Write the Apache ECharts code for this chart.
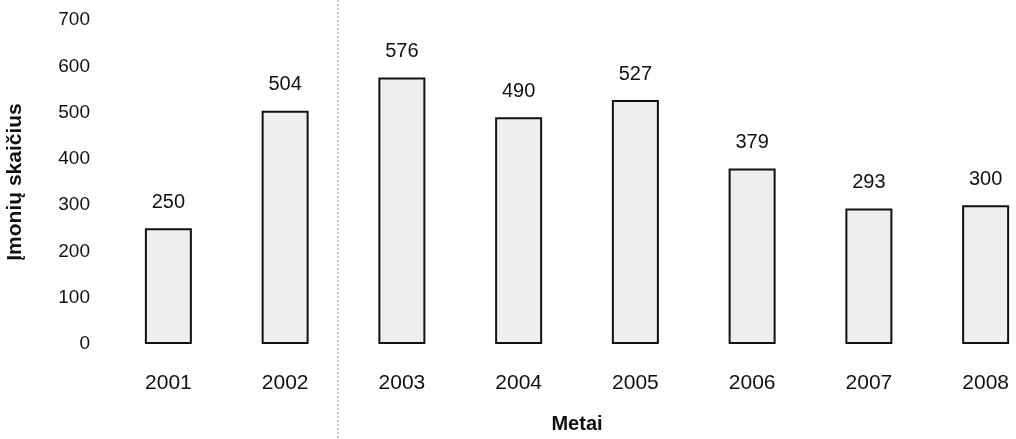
<!DOCTYPE html>
<html>
<head>
<meta charset="utf-8">
<script src="https://cdn.jsdelivr.net/npm/echarts@6/dist/echarts.min.js"></script>
<style>
html,body{margin:0;padding:0;background:#fff;}
#c{width:1016px;height:439px;}
</style>
</head>
<body>
<div id="c"></div>
<script>
const years = ['2001','2002','2003','2004','2005','2006','2007','2008'];
const companies = [250, 504, 576, 490, 527, 379, 293, 300];
const yTicks = [0, 100, 200, 300, 400, 500, 600, 700];
const yTitle = 'Įmonių skaičius';
const xTitle = 'Metai';

const chart = echarts.init(document.getElementById('c'));
const font = '"Liberation Sans", Arial, sans-serif';
chart.setOption({
  animation: false,
  backgroundColor: '#fff',
  grid: { left: 110, width: 934, top: 20, height: 324, containLabel: false, outerBoundsMode: 'none' },
  xAxis: {
    type: 'category',
    data: years,
    name: xTitle,
    nameLocation: 'middle',
    nameGap: 70,
    nameTextStyle: { fontFamily: font, fontSize: 20, fontWeight: 'bold', color: '#111' },
    axisLine: { show: false },
    axisTick: { show: false },
    axisLabel: { fontFamily: font, fontSize: 21, color: '#111', margin: 29 }
  },
  yAxis: {
    type: 'value',
    min: yTicks[0],
    max: yTicks[yTicks.length - 1],
    interval: 100,
    name: yTitle,
    nameLocation: 'middle',
    nameGap: 84,
    nameRotate: 90,
    nameTextStyle: { fontFamily: font, fontSize: 21, fontWeight: 'bold', color: '#111' },
    axisLine: { show: false },
    axisTick: { show: false },
    splitLine: { show: false },
    axisLabel: { fontFamily: font, fontSize: 19, color: '#111', margin: 20 }
  },
  graphic: [{
    type: 'line',
    shape: { x1: 338, y1: 0, x2: 338, y2: 439 },
    style: { stroke: '#999', lineWidth: 1, lineDash: [2, 2] },
    silent: true
  }],
  series: [{
    type: 'bar',
    data: companies,
    barWidth: 47,
    itemStyle: { color: '#eeeeee', borderColor: '#111', borderWidth: 2 },
    label: {
      show: true,
      position: 'top',
      distance: 16,
      fontFamily: font,
      fontSize: 20,
      color: '#111'
    }
  }]
});
</script>
</body>
</html>
